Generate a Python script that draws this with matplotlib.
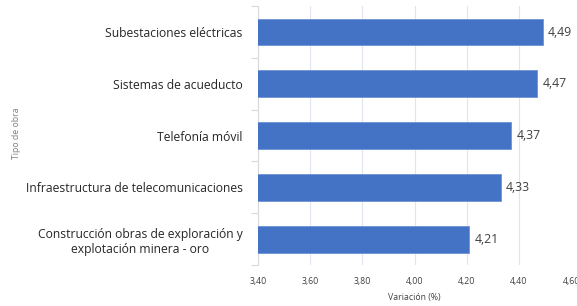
import numpy as np
import matplotlib.pyplot as plt
from matplotlib.ticker import FixedLocator

# obras y variación (%)
categorias = ['Subestaciones eléctricas', 'Sistemas de acueducto', 'Telefonía móvil',
              'Infraestructura de telecomunicaciones',
              'Construcción obras de exploración y\nexplotación minera - oro']
valores = [4.49, 4.47, 4.37, 4.33, 4.21]
ticks_x = [3.40, 3.60, 3.80, 4.00, 4.20, 4.40, 4.60]

plt.rcParams['font.family'] = ['Open Sans', 'DejaVu Sans']

fig = plt.figure(figsize=(5.77, 3.06), dpi=100)
ax = fig.add_axes([0.447, 0.134, 0.543, 0.846])

y = np.arange(len(categorias))
ax.barh(y, valores, height=0.52, color='#4472C4', edgecolor='#6f93d6', linewidth=0.6, zorder=3)
for yi, v in zip(y, valores):
    ax.text(v + 0.02, yi, f'{v:.2f}'.replace('.', ','), va='center', ha='left',
            fontsize=8.8, color='#404040')

ax.set_xlim(3.40, 4.60)
ax.set_ylim(len(categorias) - 0.5, -0.5)
ax.set_xticks(ticks_x)
ax.set_xticklabels([f'{t:.2f}'.replace('.', ',') for t in ticks_x], fontsize=6.3, color='#404040')
ax.set_yticks(y)
ax.set_yticklabels(categorias, fontsize=8.7, color='#262626', ha='right')
ax.yaxis.set_minor_locator(FixedLocator(np.arange(-0.5, len(categorias), 1.0)))
ax.tick_params(axis='y', which='major', length=0, pad=11)
ax.tick_params(axis='y', which='minor', length=5, color='#d9d9d9', width=0.8)
ax.tick_params(axis='x', length=0, pad=9)
for lbl in ax.get_yticklabels():
    lbl.set_multialignment('center')

ax.grid(axis='x', color='#dfe4ee', linewidth=0.8, zorder=0)
for s in ['top', 'right', 'bottom']:
    ax.spines[s].set_visible(False)
ax.spines['left'].set_color('#d9d9d9')
ax.spines['left'].set_linewidth(0.8)

ax.set_xlabel('Variación (%)', fontsize=6.3, color='#404040', labelpad=5)
fig.text(0.028, 0.565, 'Tipo de obra', rotation=90, fontsize=6.3, color='#7f7f7f',
         va='center', ha='center')

fig.savefig('out.png', dpi=100)
